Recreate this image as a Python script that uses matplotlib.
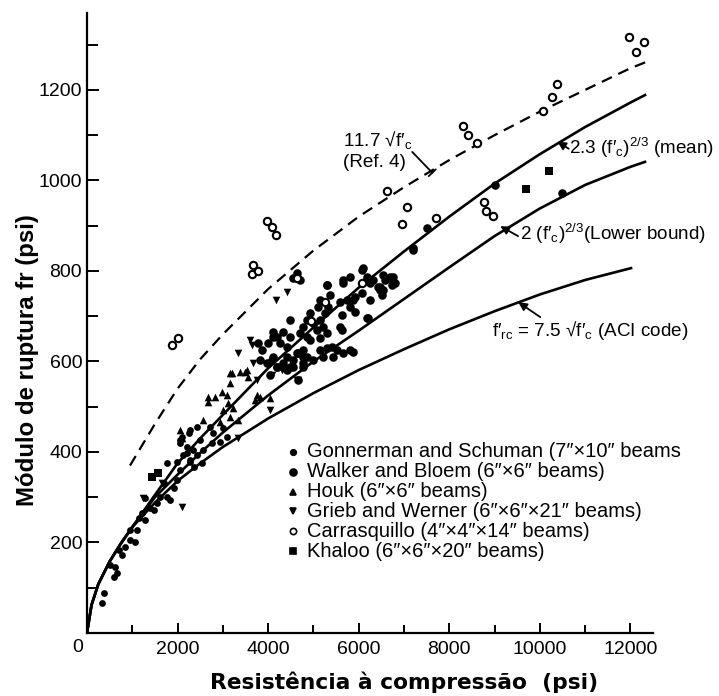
import matplotlib
matplotlib.use("Agg")
import matplotlib.pyplot as plt
from matplotlib.ticker import MultipleLocator, FixedLocator

plt.rcParams['font.family'] = ['Liberation Sans', 'DejaVu Sans']
plt.rcParams['mathtext.fontset'] = 'custom'
plt.rcParams['mathtext.rm'] = 'Liberation Sans'

# ---------------- data ----------------
curve_x = [0, 100, 250, 500, 750, 1000, 1500, 2000, 2500, 3000, 4000, 5000,
           6000, 7000, 8000, 9000, 10000, 11000, 12000, 12350]
mean_y = [0, 62, 108, 158, 198, 234, 305, 375, 430, 482, 585, 675,
          763, 843, 920, 993, 1058, 1118, 1172, 1190]
lower_y = [0, 62, 108, 158, 198, 234, 300, 350, 398, 443, 525, 600,
           668, 738, 808, 877, 938, 990, 1030, 1042]

aci_x = [0, 100, 250, 500, 750, 1000, 1500, 2000, 2500, 3000, 4000, 5000,
         6000, 7000, 8000, 9000, 10000, 11000, 12044]
aci_y = [0, 62, 108, 158, 198, 234, 288, 336, 375, 411, 474, 530,
         581, 627, 671, 711, 748, 780, 807]

ref4_x = [950, 1500, 2000, 2500, 3000, 4000, 5000, 6000, 7000, 8000, 9000,
          10000, 11000, 12000, 12354]
ref4_y = [370, 462, 540, 605, 660, 760, 845, 920, 985, 1045, 1100,
          1152, 1200, 1248, 1262]

gonnerman_x = [331, 375, 508, 619, 663, 597, 707, 773, 840, 950, 950, 1061, 1105,
               1149, 1216, 1282, 1282, 1392, 1481, 1547, 1613, 1702, 1768, 1768,
               1834, 1989, 1923, 1989, 2055, 2100, 2254, 2210, 2276, 2431, 2365,
               2541, 2276, 2055, 2497, 2210, 2343, 2564, 2122, 2276, 2055, 2939,
               2762, 2431, 2718, 2785, 3006, 3094]
gonnerman_y = [66, 88, 150, 146, 133, 124, 183, 172, 190, 206, 228, 201, 228,
               254, 265, 250, 298, 276, 272, 287, 300, 331, 376, 300,
               294, 338, 320, 378, 420, 433, 442, 398, 382, 393, 367,
               376, 449, 427, 427, 411, 404, 404, 393, 378, 360, 422,
               420, 455, 455, 442, 453, 433]

walker_x = [3779, 3868, 4000, 4111, 4265, 3823, 3978, 4089, 4199, 4420, 4553, 4663,
            4486, 4774, 4862, 4044, 4641, 4707, 4553, 5304, 5658, 5812, 6078, 6188,
            6254, 6321, 6431, 6542, 6696, 6763, 6542, 6254, 6078, 5923, 5746, 5591,
            5370, 5149, 5105, 5326, 5260, 4928, 4862, 4995, 5149, 5216, 5083, 5304,
            5149, 5636, 5923, 5636, 4486, 4774, 4707, 4486, 4862, 4332, 4199, 4111,
            4420, 4641, 4774, 4928, 5149, 5304, 5415, 5525, 5812, 5216, 4995, 4774,
            4553, 4332, 4199, 4111, 4420, 6188, 7205, 6100, 6475, 6807, 5879, 5812,
            6210, 5658, 5304, 5591, 4774, 5437, 5658, 5879, 4663, 6188, 6475, 6586,
            6763, 6741, 6520, 7205, 7514, 9017, 10498, 6188]
walker_y = [641, 625, 641, 654, 641, 603, 597, 603, 588, 610, 603, 619,
            588, 588, 610, 570, 796, 780, 785, 769, 773, 787, 802, 787,
            773, 780, 765, 791, 787, 773, 758, 736, 751, 743, 736, 731,
            747, 736, 720, 720, 707, 707, 692, 685, 692, 676, 670, 663,
            652, 703, 709, 670, 692, 676, 663, 654, 654, 665, 654, 665,
            632, 619, 625, 648, 625, 630, 632, 625, 625, 610, 603, 597,
            588, 597, 588, 610, 581, 696, 846, 807, 765, 773, 736, 720,
            696, 780, 769, 676, 610, 610, 619, 621, 559, 780, 758, 780,
            787, 769, 747, 851, 895, 990, 972, 780]

houk_x = [2984, 3094, 2829, 2674, 3116, 3227, 3006, 3160, 3337, 2939, 2564, 3160,
          3205, 3492, 3558, 2055, 2100, 2674, 3160, 3381, 3536, 3757, 3713, 4044, 3823]
houk_y = [533, 526, 522, 511, 508, 497, 493, 477, 471, 466, 471, 553,
          575, 577, 566, 449, 431, 522, 575, 577, 581, 526, 515, 519, 522]

grieb_x = [2100, 3337, 3669, 3647, 3602, 4641, 3757, 4089, 4310, 3337, 4044, 4663,
           4177, 4420, 1238, 1658]
grieb_y = [278, 619, 597, 636, 648, 559, 559, 570, 581, 431, 493, 559,
           736, 754, 298, 331]

carrasquillo_x = [1878, 2000, 3978, 4089, 4177, 3669, 3647, 3780, 11978, 12310, 12133,
                  10387, 10277, 10078, 8310, 8420, 8619, 6630, 7072, 6962, 7713, 8774,
                  8818, 8973, 4641, 5260, 6078, 4950]
carrasquillo_y = [637, 652, 911, 897, 880, 813, 793, 800, 1317, 1306, 1284,
                  1213, 1185, 1154, 1120, 1101, 1083, 977, 942, 904, 917, 953,
                  933, 922, 785, 731, 773, 690]

khaloo_x = [1437, 1569, 9702, 10210]
khaloo_y = [345, 354, 981, 1021]

legend_labels = [
    "Gonnerman and Schuman (7\u2033\u00d710\u2033 beams",
    "Walker and Bloem (6\u2033\u00d76\u2033 beams)",
    "Houk (6\u2033\u00d76\u2033 beams)",
    "Grieb and Werner (6\u2033\u00d76\u2033\u00d721\u2033 beams)",
    "Carrasquillo (4\u2033\u00d74\u2033\u00d714\u2033 beams)",
    "Khaloo (6\u2033\u00d76\u2033\u00d720\u2033 beams)",
]

x_major = [2000, 4000, 6000, 8000, 10000, 12000]
x_labels = ["2000", "4000", "6000", "8000", "10000", "12000"]
y_major = [200, 400, 600, 800, 1000, 1200]
y_labels = ["200", "400", "600", "800", "1000", "1200"]

# ---------------- figure ----------------
fig = plt.figure(figsize=(7.19, 6.96), dpi=100)
ax = fig.add_axes([87 / 719, 63 / 696, 566 / 719, 620 / 696])
ax.set_xlim(0, 12500)
ax.set_ylim(0, 1370)

K = 'black'
lw = 1.9
ax.plot(curve_x, mean_y, color=K, lw=lw, solid_capstyle='butt')
ax.plot(curve_x, lower_y, color=K, lw=lw, solid_capstyle='butt')
ax.plot(aci_x, aci_y, color=K, lw=lw, solid_capstyle='butt')
ax.plot(ref4_x, ref4_y, color=K, lw=1.6, ls=(0, (5, 3.2)))

ax.scatter(gonnerman_x, gonnerman_y, s=24, c=K, marker='o', linewidths=0, zorder=3)
ax.scatter(walker_x, walker_y, s=38, c=K, marker='o', linewidths=0, zorder=3)
ax.scatter(houk_x, houk_y, s=30, c=K, marker='^', linewidths=0, zorder=3)
ax.scatter(grieb_x, grieb_y, s=30, c=K, marker='v', linewidths=0, zorder=3)
ax.scatter(khaloo_x, khaloo_y, s=26, c=K, marker='s', linewidths=0, zorder=3)
ax.scatter(carrasquillo_x, carrasquillo_y, s=28, facecolors='white', edgecolors=K,
           marker='o', linewidths=1.5, zorder=4)

# legend (manual, as in the original figure)
leg_marker = ['o', 'o', '^', 'v', 'o', 's']
leg_size = [4.0, 5.0, 4.0, 4.0, 4.5, 4.2]
leg_face = [K, K, K, K, 'white', K]
leg_y0 = 400
leg_dy = 43.8
for i, lab in enumerate(legend_labels):
    yy = leg_y0 - i * leg_dy
    ax.plot([4553], [yy], marker=leg_marker[i], ms=leg_size[i], mfc=leg_face[i],
            mec=K, mew=1.2, ls='none')
    ax.text(4862, yy, lab, fontsize=14.5, ha='left', va='center')

# curve labels
fs = 13.6
FC = "$\\mathregular{f\u2032_c}$"
ax.text(5658, 1068, "11.7 \u221a" + FC + "\n(Ref. 4)", fontsize=fs,
        ha='left', va='center', linespacing=1.25)
ax.annotate("", xy=(7625, 1017), xytext=(7183, 1063),
            arrowprops=dict(arrowstyle='-[, widthB=0.35, lengthB=0', lw=1.3, color=K,
                            shrinkA=0, shrinkB=0))

ax.text(10653, 1072, "2.3 $\\mathregular{(f\u2032_c)^{2/3}}$ (mean)", fontsize=fs,
        ha='left', va='center')
ax.annotate("", xy=(10387, 1086), xytext=(10640, 1070),
            arrowprops=dict(arrowstyle='-|>, head_length=0.5, head_width=0.25', lw=1.3,
                            color=K, shrinkA=0, shrinkB=0))

ax.text(9569, 882, "2 $\\mathregular{(f\u2032_c)^{2/3}}$(Lower bound)", fontsize=fs,
        ha='left', va='center')
ax.annotate("", xy=(9127, 899), xytext=(9520, 877),
            arrowprops=dict(arrowstyle='-|>, head_length=0.5, head_width=0.25', lw=1.3,
                            color=K, shrinkA=0, shrinkB=0))

ax.text(8950, 668, "$\\mathregular{f\u2032_{rc}}$ = 7.5 \u221a" + FC + " (ACI code)",
        fontsize=fs, ha='left', va='center')
ax.annotate("", xy=(9525, 731), xytext=(10011, 698),
            arrowprops=dict(arrowstyle='-|>, head_length=0.5, head_width=0.25', lw=1.3,
                            color=K, shrinkA=0, shrinkB=0))

# axes styling
for s in ['top', 'right']:
    ax.spines[s].set_visible(False)
for s in ['left', 'bottom']:
    ax.spines[s].set_linewidth(1.6)

ax.xaxis.set_major_locator(FixedLocator(x_major))
ax.set_xticklabels(x_labels)
ax.yaxis.set_major_locator(FixedLocator(y_major))
ax.set_yticklabels(y_labels)
ax.xaxis.set_minor_locator(MultipleLocator(1000))
ax.yaxis.set_minor_locator(MultipleLocator(100))
ax.tick_params(axis='both', which='both', direction='in', width=1.4, labelsize=14)
ax.tick_params(axis='x', which='major', length=7, pad=6)
ax.tick_params(axis='x', which='minor', length=6)
ax.tick_params(axis='y', which='major', length=8.5, pad=3.5)
ax.tick_params(axis='y', which='minor', length=8)

ax.annotate("0", xy=(0, 0), xytext=(-7, -10.5), textcoords='offset points',
            ha='center', va='center', fontsize=14)

ax.set_xlabel("Resistência à compressão  (psi)", fontsize=15.7, fontweight='bold',
              family='DejaVu Sans')
ax.xaxis.set_label_coords(0.56, -0.062)
ax.set_ylabel("Módulo de ruptura fr (psi)", fontsize=17.3, fontweight='bold')
ax.yaxis.set_label_coords(-0.085, 0.44)

fig.savefig("out.png", dpi=100)
